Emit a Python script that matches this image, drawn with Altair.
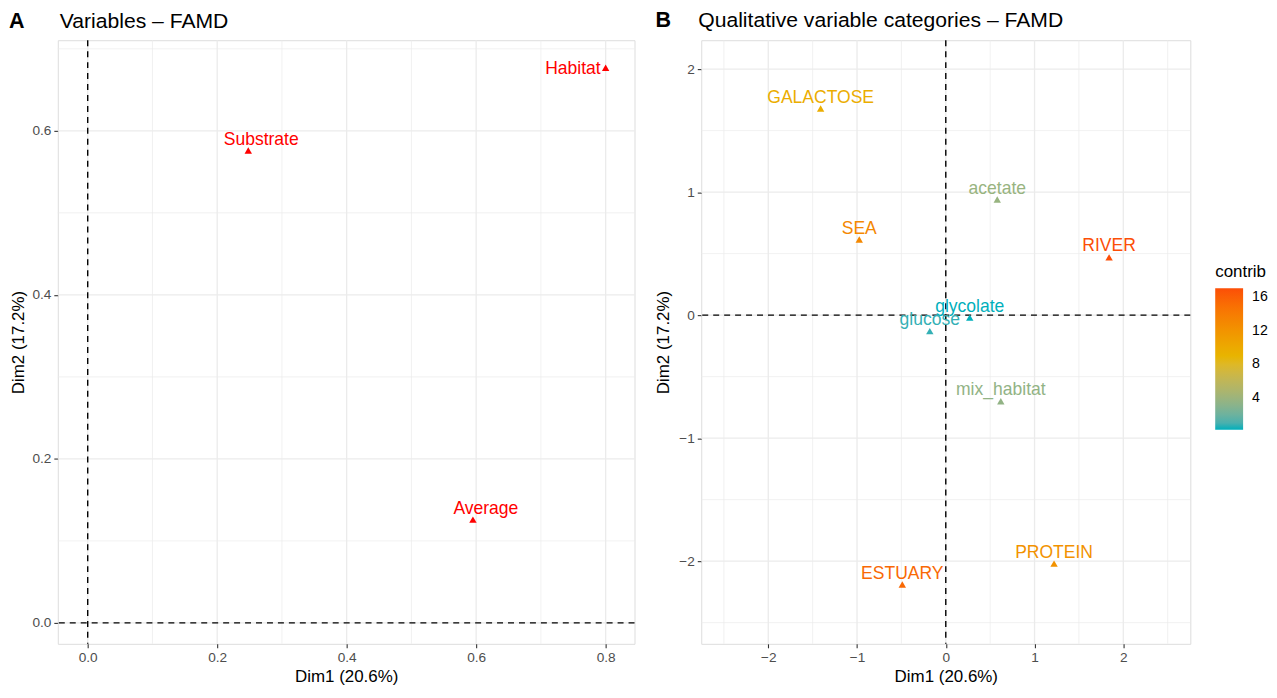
import altair as alt
import pandas as pd

# ---------------- data ----------------
var_names = ["Habitat", "Substrate", "Average"]
var_dim1 = [0.800, 0.248, 0.595]
var_dim2 = [0.677, 0.576, 0.126]

cat_names = ["GALACTOSE", "acetate", "SEA", "RIVER", "glycolate", "glucose",
             "mix_habitat", "PROTEIN", "ESTUARY"]
cat_dim1 = [-1.41, 0.58, -0.975, 1.84, 0.27, -0.18, 0.62, 1.22, -0.49]
cat_dim2 = [1.68, 0.94, 0.615, 0.47, -0.02, -0.13, -0.70, -2.02, -2.19]
cat_contrib = [9.7, 3.8, 13.0, 17.1, 0.2, 0.6, 3.5, 12.2, 15.4]

left_x_major = [0.0, 0.2, 0.4, 0.6, 0.8]
left_x_minor = [0.1, 0.3, 0.5, 0.7]
left_y_major = [0.0, 0.2, 0.4, 0.6]
left_y_minor = [0.1, 0.3, 0.5, 0.7]

right_x_major = [-2, -1, 0, 1, 2]
right_x_minor = [-2.5, -1.5, -0.5, 0.5, 1.5, 2.5]
right_y_major = [-2, -1, 0, 1, 2]
right_y_minor = [-2.5, -1.5, -0.5, 0.5, 1.5]

legend_values = [4, 8, 12, 16]
gradient_cols = ["#00AFBB", "#E7B800", "#FC4E07"]

x_title = "Dim1 (20.6%)"
y_title = "Dim2 (17.2%)"
title_a = "Variables – FAMD"
title_b = "Qualitative variable categories – FAMD"

FONT = "Liberation Sans"
GRID = "#EBEBEB"

var_df = pd.DataFrame({"name": var_names, "x": var_dim1, "y": var_dim2})
cat_df = pd.DataFrame({"name": cat_names, "x": cat_dim1, "y": cat_dim2,
                       "contrib": cat_contrib})


def axis(values, fmt, tpad):
    return alt.Axis(values=values, format=fmt, grid=False, domain=False,
                    ticks=True, tickSize=4, tickColor="#333333", tickWidth=1.1,
                    labelColor="#4D4D4D", labelFontSize=13.7, labelFont=FONT,
                    labelPadding=3, titleFont=FONT, titleFontSize=17,
                    titleFontWeight="normal", titleColor="black",
                    titlePadding=tpad)


def panel(xdom, ydom, xmaj, xmin, ymaj, ymin, xfmt, yfmt, ytpad):
    xs = alt.Scale(domain=xdom, nice=False, zero=False)
    ys = alt.Scale(domain=ydom, nice=False, zero=False)
    X = lambda f: alt.X(f, type="quantitative", scale=xs, axis=axis(xmaj, xfmt, 4), title=x_title)
    Y = lambda f: alt.Y(f, type="quantitative", scale=ys, axis=axis(ymaj, yfmt, ytpad), title=y_title)
    layers = [
        alt.Chart(pd.DataFrame({"v": xmin})).mark_rule(color=GRID, strokeWidth=0.7).encode(x=X("v")),
        alt.Chart(pd.DataFrame({"v": ymin})).mark_rule(color=GRID, strokeWidth=0.7).encode(y=Y("v")),
        alt.Chart(pd.DataFrame({"v": xmaj})).mark_rule(color=GRID, strokeWidth=1.3).encode(x=X("v")),
        alt.Chart(pd.DataFrame({"v": ymaj})).mark_rule(color=GRID, strokeWidth=1.3).encode(y=Y("v")),
        alt.Chart(pd.DataFrame({"v": [0]})).mark_rule(color="black", strokeWidth=1.4,
                                                      strokeDash=[6, 5]).encode(x=X("v")),
        alt.Chart(pd.DataFrame({"v": [0]})).mark_rule(color="black", strokeWidth=1.4,
                                                      strokeDash=[6, 5]).encode(y=Y("v")),
    ]
    return X, Y, layers


def header(tag, title, tag_x, title_x, y):
    t1 = alt.Chart(pd.DataFrame({"t": [tag]})).mark_text(
        font=FONT, fontSize=21.6, fontWeight="bold", align="left",
        baseline="alphabetic", color="black").encode(
        x=alt.value(tag_x), y=alt.value(y), text="t:N")
    t2 = alt.Chart(pd.DataFrame({"t": [title]})).mark_text(
        font=FONT, fontSize=21.2, fontWeight="normal", align="left",
        baseline="alphabetic", color="black").encode(
        x=alt.value(title_x), y=alt.value(y), text="t:N")
    return [t1, t2]


PLOT_H = 606

# ---------------- panel A ----------------
XA, YA, layA = panel([-0.0462, 0.8446], [-0.0255, 0.7105],
                     left_x_major, left_x_minor, left_y_major, left_y_minor,
                     ".1f", ".1f", 4)
baseA = alt.Chart(var_df)
ptsA = baseA.mark_point(shape="triangle-up", filled=True, size=55, opacity=1,
                        color="#FF0000").encode(x=XA("x"), y=YA("y"))
txtA1 = baseA.transform_filter("datum.name != 'Habitat'").mark_text(
    color="#FF0000", font=FONT, fontSize=17.6, align="center",
    baseline="alphabetic", dx=13, dy=-6).encode(x=XA("x"), y=YA("y"), text="name:N")
txtA2 = baseA.transform_filter("datum.name == 'Habitat'").mark_text(
    color="#FF0000", font=FONT, fontSize=17.6, align="right",
    baseline="middle", dx=-5, dy=1).encode(x=XA("x"), y=YA("y"), text="name:N")

left = alt.layer(*layA, ptsA, txtA1, txtA2, *header("A", title_a, -49, 2, -12)).properties(
    width=579, height=PLOT_H)

# ---------------- panel B ----------------
XB, YB, layB = panel([-2.755, 2.755], [-2.672, 2.235],
                     right_x_major, right_x_minor, right_y_major, right_y_minor,
                     "d", "d", 6)
cmin, cmax = min(cat_contrib), max(cat_contrib)
cscale = alt.Scale(domain=[cmin, (cmin + cmax) / 2, cmax], range=gradient_cols,
                   interpolate="lab")
baseB = alt.Chart(cat_df)
colB = alt.Color("contrib:Q", scale=cscale, title="contrib",
                 legend=alt.Legend(orient="none", legendX=516, legendY=225,
                                   values=legend_values, gradientLength=142,
                                   gradientThickness=28, gradientStrokeWidth=0,
                                   titleFont=FONT, titleFontSize=17,
                                   titleFontWeight="normal", titleColor="black",
                                   titlePadding=7, labelFont=FONT,
                                   labelFontSize=14.2, labelColor="black",
                                   labelOffset=9, direction="vertical"))
ptsB = baseB.mark_point(shape="triangle-up", filled=True, size=55,
                        opacity=1).encode(x=XB("x"), y=YB("y"), color=colB)
txtB = baseB.mark_text(font=FONT, fontSize=17.6, align="center",
                       baseline="alphabetic", dy=-6).encode(
    x=XB("x"), y=YB("y"), text="name:N", color=alt.Color("contrib:Q", scale=cscale, legend=None))

right = alt.layer(*layB, ptsB, txtB, *header("B", title_b, -46, -3, -13)).properties(
    width=491, height=PLOT_H)

chart = alt.hconcat(left, right, spacing=17).resolve_legend(
    color="independent").resolve_scale(color="independent").properties(
    padding={"left": 0, "top": 0, "right": 0, "bottom": 0}
).configure_view(strokeWidth=0, stroke="transparent").configure(background="white")

chart.save("out.html", embed_options={"renderer": "svg", "actions": False})
